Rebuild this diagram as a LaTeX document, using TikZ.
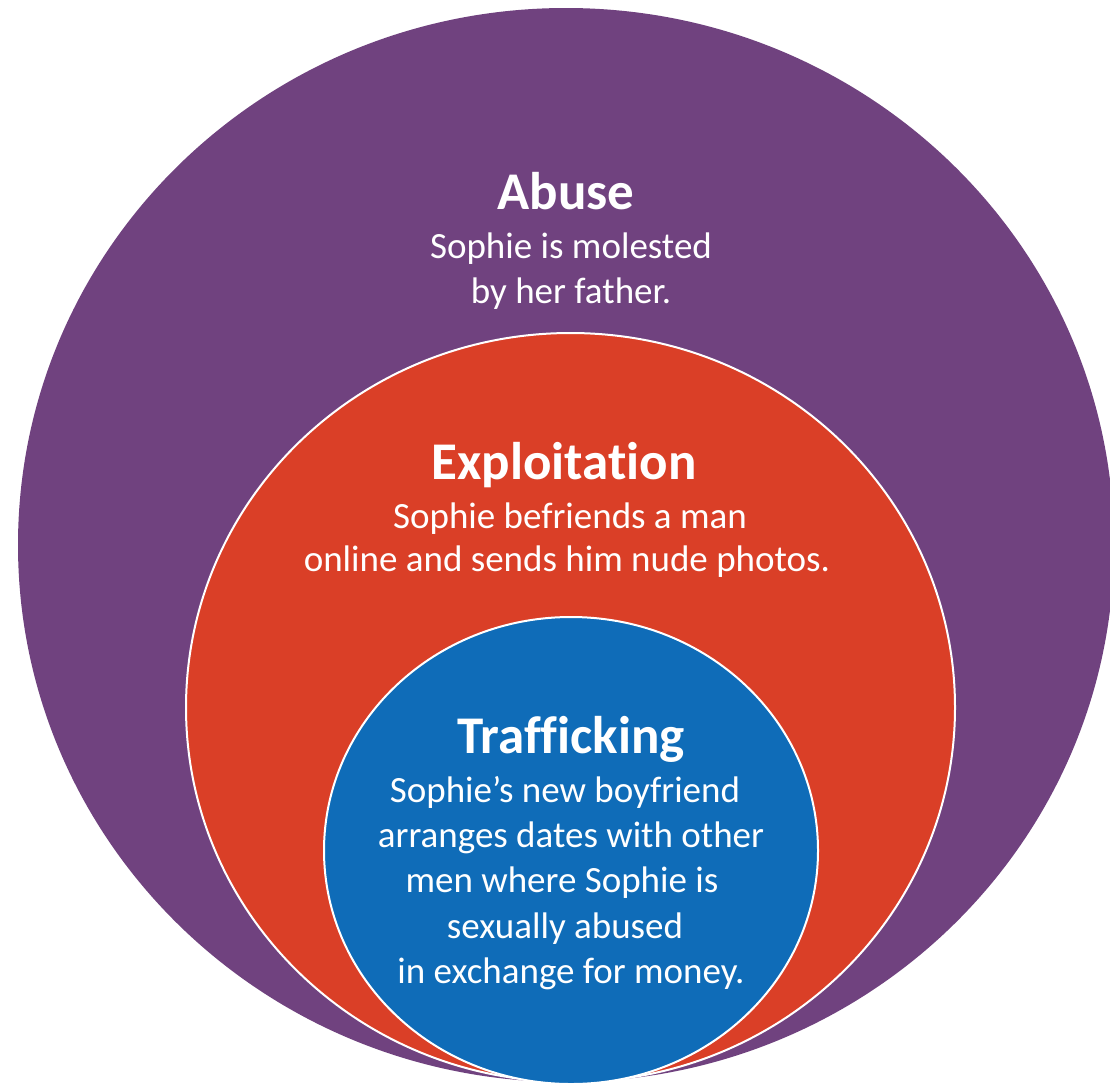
\documentclass[tikz,border=0pt]{standalone}
\usepackage{fontspec}
\setmainfont[Ligatures=NoCommon]{Carlito}
\definecolor{abusecol}{HTML}{70427F}
\definecolor{exploitcol}{HTML}{DA3F27}
\definecolor{trafficcol}{HTML}{0F6CB8}
\tikzset{
  titletext/.style={text=white, anchor=base, inner sep=0pt, font=\fontsize{53}{63}\selectfont\bfseries},
  bodytext/.style={text=white, anchor=base, inner sep=0pt, font=\fontsize{37}{44}\selectfont},
  ring/.style={draw=white, line width=2pt}
}
\begin{document}
\begin{tikzpicture}[x=1pt,y=-1pt]
\useasboundingbox (0,0) rectangle (1110,1084);
\begin{scope}
\clip (0,0) rectangle (1110,1084);
\fill[abusecol] (566,545) ellipse [x radius=548, y radius=537];
\path[ring, fill=exploitcol] (570.5,707.5) ellipse [x radius=384.5, y radius=374.5];
\path[ring, fill=trafficcol] (571,850.5) ellipse [x radius=247, y radius=233.5];
\end{scope}
% Abuse
\node[titletext] (abuseT) at (566,209) {Abuse};
\node[bodytext] (abuse1) at (571,258) {Sophie is molested};
\node[bodytext] (abuse2) at (571,303) {by her father.};
% Exploitation
\node[titletext] (exploitT) at (564,479) {Exploitation};
\node[bodytext] (exploit1) at (570,528) {Sophie befriends a man};
\node[bodytext] (exploit2) at (567,571) {online and sends him nude photos.};
% Trafficking
\node[titletext] (trafficT) at (571,753) {Trafficking};
\node[bodytext] (traffic1) at (565,802) {Sophie’s new boyfriend};
\node[bodytext] (traffic2) at (571,847) {arranges dates with other};
\node[bodytext] (traffic3) at (562,892) {men where Sophie is};
\node[bodytext] (traffic4) at (565,938) {sexually abused};
\node[bodytext] (traffic5) at (571,983) {in exchange for money.};
\end{tikzpicture}
\end{document}
